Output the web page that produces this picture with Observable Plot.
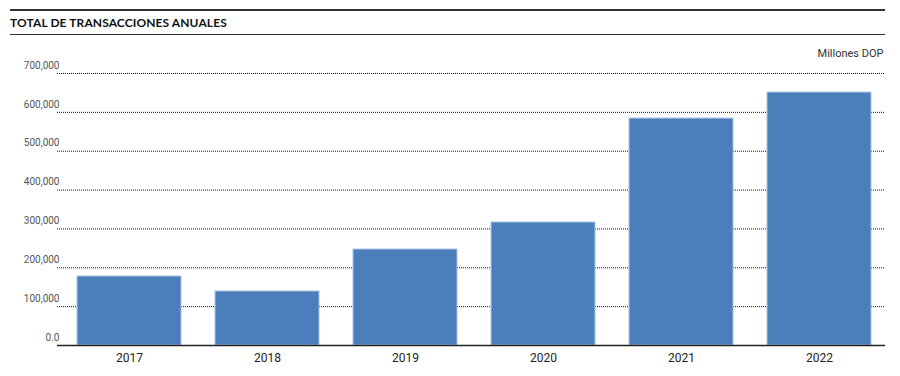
<!DOCTYPE html>
<html><head><meta charset="utf-8">
<script src="https://cdn.jsdelivr.net/npm/d3@7"></script>
<script src="https://cdn.jsdelivr.net/npm/@observablehq/plot@0.6"></script>
<style>
html,body{margin:0;padding:0;background:#fff;}
#wrap{position:relative;width:900px;height:376px;overflow:hidden;}
#head{position:absolute;left:10px;top:9px;width:875px;height:26px;border-top:2px solid #333;border-bottom:1.5px solid #333;box-sizing:border-box;}
#head span{position:absolute;left:0;top:4px;font:bold 12px Lato,"DejaVu Sans",sans-serif;color:#111;letter-spacing:0.1px;}
#chart{position:absolute;left:0;top:37px;}
</style></head>
<body><div id="wrap"><div id="head"><span>TOTAL DE TRANSACCIONES ANUALES</span></div><div id="chart"></div></div>
<script>
const years = ["2017","2018","2019","2020","2021","2022"];
const values = [177600, 139000, 247000, 316500, 584000, 651000];
const yTicks = [0,100000,200000,300000,400000,500000,600000,700000];
const unitLabel = "Millones DOP";

const data = years.map((y,i)=>({year:y, value:values[i]}));
const fmt = d => d === 0 ? "0.0" : d3.format(",")(d);

const plot = Plot.plot({
  width: 900, height: 339,
  marginLeft: 57, marginRight: 15, marginTop: 36, marginBottom: 31,
  style: {fontFamily: "Roboto, 'Liberation Sans', sans-serif", background: "#fff"},
  x: {domain: years, paddingInner: 0.246, paddingOuter: 0.123, insetLeft: 3, insetRight: -3, label: null},
  y: {domain: [0, 700000], label: null},
  marks: [
    Plot.ruleY(yTicks.filter(d=>d>0), {stroke: "#111", strokeWidth: 1, strokeDasharray: "1,1"}),
    Plot.barY(data, {x: "year", y: "value", fill: "#4a7fbb", stroke: "#a9c3e3", strokeWidth: 1}),
    Plot.ruleY([0], {stroke: "#222", strokeWidth: 1.5}),
    Plot.axisY(yTicks, {tickSize: 0, tickPadding: 0, dx: 2, dy: -8, tickFormat: fmt, fontSize: 10, fill: "#555", label: null}),
    Plot.axisX({tickSize: 0, tickPadding: 8, fontSize: 12, fill: "#222", label: null}),
    Plot.text([unitLabel], {frameAnchor: "top-right", textAnchor: "end", dx: -2, dy: -24, fontSize: 11, fill: "#333"})
  ]
});
document.getElementById("chart").appendChild(plot);
</script></body></html>
